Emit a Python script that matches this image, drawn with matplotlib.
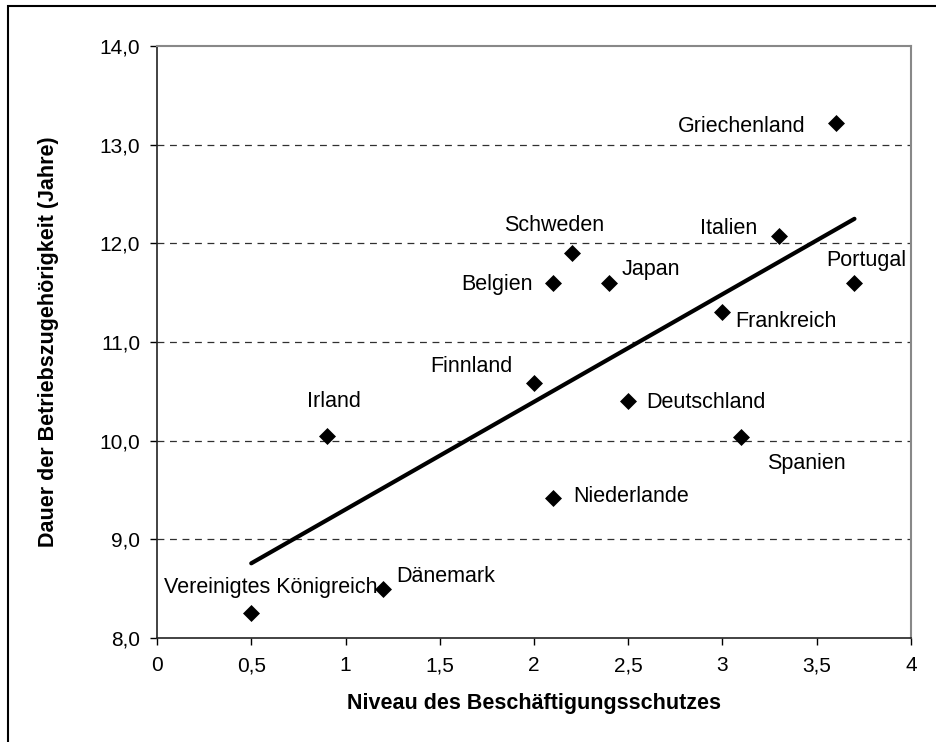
import numpy as np
import matplotlib
matplotlib.use("Agg")
import matplotlib.pyplot as plt
from matplotlib.patches import Rectangle
from matplotlib.ticker import FuncFormatter

plt.rcParams['font.family'] = ['Liberation Sans', 'DejaVu Sans']

countries = ["Vereinigtes Königreich", "Dänemark", "Irland", "Finnland", "Niederlande",
             "Deutschland", "Belgien", "Schweden", "Japan", "Frankreich", "Spanien",
             "Italien", "Griechenland", "Portugal"]
protection = [0.5, 1.2, 0.9, 2.0, 2.1, 2.5, 2.1, 2.2, 2.4, 3.0, 3.1, 3.3, 3.6, 3.7]
tenure = [8.25, 8.5, 10.05, 10.58, 9.42, 10.4, 11.6, 11.9, 11.6, 11.3, 10.04, 12.07, 13.22, 11.6]

# label offsets in pixels (dx, dy, ha)
offsets = {
    "Vereinigtes Königreich": (19, 26, "center"),
    "Dänemark": (13, 12, "left"),
    "Irland": (7, 34, "center"),
    "Finnland": (-22, 17, "right"),
    "Niederlande": (20, 1, "left"),
    "Deutschland": (18, -1, "left"),
    "Belgien": (-20, -2, "right"),
    "Schweden": (-18, 28, "center"),
    "Japan": (12, 13, "left"),
    "Frankreich": (13, -9, "left"),
    "Spanien": (65, -27, "center"),
    "Italien": (-22, 8, "right"),
    "Griechenland": (-30, -4, "right"),
    "Portugal": (12, 22, "center"),
}

W, H = 937, 742
fig = plt.figure(figsize=(W / 100, H / 100), dpi=100)
ax = fig.add_axes([157 / W, 1 - 638 / H, (911 - 157) / W, (638 - 46) / H])

ax.set_xlim(0, 4)
ax.set_ylim(8, 14)
ax.set_xticks(np.arange(0, 4.01, 0.5))
ax.set_yticks(np.arange(8, 14.01, 1))

ax.xaxis.set_major_formatter(FuncFormatter(lambda v, p: ("%g" % v).replace(".", ",")))
ax.yaxis.set_major_formatter(FuncFormatter(lambda v, p: ("%.1f" % v).replace(".", ",")))
ax.tick_params(axis='both', direction='out', length=5, width=1, labelsize=15, colors='black')
ax.tick_params(axis='y', pad=7)
ax.tick_params(axis='x', pad=8)

for yv in range(9, 14):
    ax.axhline(yv, color='#303030', lw=0.9, ls=(0, (5.5, 4.5)), zorder=1)

for s in ['top', 'right']:
    ax.spines[s].set_color('#888888')
    ax.spines[s].set_linewidth(1.5)
for s in ['left', 'bottom']:
    ax.spines[s].set_color('#222222')
    ax.spines[s].set_linewidth(1.2)

# trend line (linear fit of the data)
coef = np.polyfit(protection, tenure, 1)
xs = np.array([min(protection), max(protection)])
ax.plot(xs, np.polyval(coef, xs), color='black', lw=3, zorder=3, solid_capstyle='round')

ax.scatter(protection, tenure, marker='D', s=75, color='black', zorder=4, linewidths=0)

for c, x, y in zip(countries, protection, tenure):
    dx, dy, ha = offsets[c]
    ax.annotate(c, (x, y), xytext=(dx, dy), textcoords='offset pixels',
                ha=ha, va='center', fontsize=15.5, zorder=5)

ax.set_xlabel("Niveau des Beschäftigungsschutzes", fontsize=15.5, fontweight='bold')
ax.set_ylabel("Dauer der Betriebszugehörigkeit (Jahre)", fontsize=15.5, fontweight='bold')
ax.xaxis.set_label_coords(0.5, -0.093)
ax.yaxis.set_label_coords(-0.130, 0.5)

fig.patches.append(Rectangle((8 / W, -0.01), 1.02, 1 - 6 / H + 0.01, transform=fig.transFigure,
                             fill=False, edgecolor='black', lw=1.5))

fig.savefig("out.png", dpi=100)
